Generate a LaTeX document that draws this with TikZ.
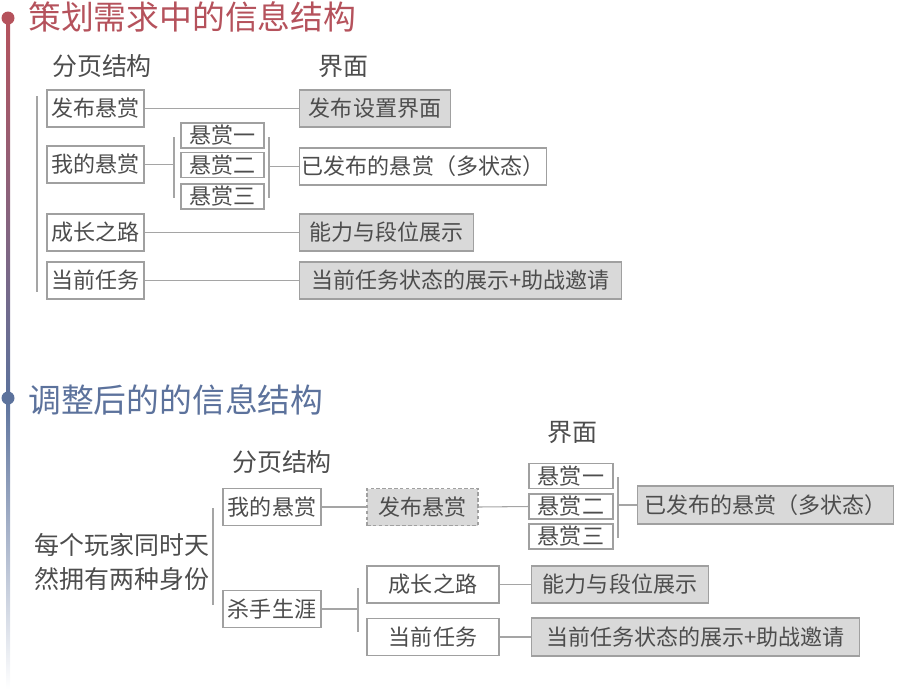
\documentclass[tikz,border=0pt]{standalone}
\usepackage{fontspec}
\setmainfont{Noto Sans CJK SC}
\usepackage{xcolor}
\definecolor{txtgray}{RGB}{77,77,77}
\definecolor{boxgray}{RGB}{160,160,160}
\definecolor{fillgray}{RGB}{217,217,217}
\definecolor{linegray}{RGB}{165,165,165}
\definecolor{tlred}{RGB}{181,82,92}
\definecolor{tlblue}{RGB}{92,114,156}
\usepackage{tikz}
\usetikzlibrary{positioning}

\begin{document}
\begin{tikzpicture}[x=0.03cm, y=-0.03cm,
    title/.style={anchor=west, inner sep=0pt, font=\fontsize{28}{32}\selectfont},
    header/.style={inner sep=0pt, text=txtgray, font=\fontsize{21.3}{25}\selectfont},
    pagebox/.style={rectangle, draw=boxgray, line width=0.9pt, fill=white,
      inner sep=0pt, minimum height=37*0.03cm, text=txtgray,
      font=\fontsize{18.8}{22}\selectfont},
    uibox/.style={pagebox, anchor=west},
    uifill/.style={uibox, fill=fillgray},
    subbox/.style={pagebox, minimum width=84*0.03cm, minimum height=25*0.03cm},
    link/.style={draw=linegray, line width=0.9pt},
    brace/.style={draw=linegray, line width=0.9pt}
]
\useasboundingbox (0,0) rectangle (900,689);

\shade[top color=tlred, bottom color=tlblue] (6,18) rectangle (10,398);
\shade[top color=tlblue, bottom color=white] (6,398) rectangle (10,689);
\fill[tlred] (8,18) circle (6.5);
\fill[tlblue] (8,398) circle (6.5);

\node[title, text=tlred] (title1) at (28,17) {策划需求中的信息结构};
\node[header] (head1) at (102,66) {分页结构};
\node[header] (ui1) at (343,66) {界面};

\node[pagebox, minimum width=97*0.03cm] (t1) at (95.5,108.5) {发布悬赏};
\node[pagebox, minimum width=97*0.03cm] (t2) at (95.5,164.5) {我的悬赏};
\node[pagebox, minimum width=97*0.03cm] (t3) at (95.5,232.5) {成长之路};
\node[pagebox, minimum width=97*0.03cm] (t4) at (95.5,280.5) {当前任务};

\node[subbox, minimum width=83*0.03cm] (s1) at (222.5,135.5) {悬赏一};
\node[subbox, minimum width=83*0.03cm] (s2) at (222.5,165) {悬赏二};
\node[subbox, minimum width=83*0.03cm] (s3) at (222.5,196.5) {悬赏三};

\node[uifill, minimum width=151*0.03cm] (u1) at (299,108.5) {发布设置界面};
\node[uibox, minimum width=247*0.03cm] (u2) at (299,166.5) {已发布的悬赏（多状态）};
\node[uifill, minimum width=174*0.03cm] (u3) at (299,232.5) {能力与段位展示};
\node[uifill, minimum width=322*0.03cm] (u4) at (299,280.5) {当前任务状态的展示+助战邀请};

\coordinate (la) at (37,96);
\coordinate (lb) at (37,292);
\coordinate (ba) at (174,137);
\coordinate (bb) at (174,198);
\coordinate (ca) at (269,137);
\coordinate (cb) at (269,198);
\draw[brace] (la) -- (lb);
\draw[brace] (ba) -- (bb);
\draw[brace] (ca) -- (cb);

\draw[link] (t1.east) -- (u1.west);
\draw[link] (t2.east) -- (ba |- t2.east);
\draw[link] (ca |- u2.west) -- (u2.west);
\draw[link] (t3.east) -- (u3.west);
\draw[link] (t4.east) -- (u4.west);

\node[title, text=tlblue] (title2) at (28,400) {调整后的的信息结构};
\node[header] (head2) at (282,462) {分页结构};
\node[header] (ui2) at (572,432) {界面};

\node[header, align=left, font=\fontsize{21.3}{29}\selectfont] (root) at (122,562)
  {每个玩家同时天\\然拥有两种身份};

\node[pagebox, minimum width=98*0.03cm] (m1) at (272,507) {我的悬赏};
\node[pagebox, minimum width=98*0.03cm] (m2) at (272,609) {杀手生涯};

\node[pagebox, fill=fillgray, dashed, dash pattern=on 3pt off 2pt,
  minimum width=111*0.03cm] (p1) at (422.5,507) {发布悬赏};

\node[subbox] (r1) at (571,476) {悬赏一};
\node[subbox] (r2) at (571,506.5) {悬赏二};
\node[subbox] (r3) at (571,536.5) {悬赏三};

\node[uifill, minimum width=256*0.03cm, minimum height=38*0.03cm] (v1) at (637,505) {已发布的悬赏（多状态）};

\node[pagebox, minimum width=132*0.03cm] (g1) at (433,584.5) {成长之路};
\node[pagebox, minimum width=132*0.03cm] (g2) at (433,637) {当前任务};

\node[uifill, minimum width=177*0.03cm] (v2) at (531,584.5) {能力与段位展示};
\node[uifill, minimum width=328*0.03cm, minimum height=38*0.03cm] (v3) at (531,637) {当前任务状态的展示+助战邀请};

\coordinate (da) at (213,508);
\coordinate (db) at (213,605);
\coordinate (ea) at (618,477);
\coordinate (eb) at (618,538);
\coordinate (fa) at (358,588);
\coordinate (fb) at (358,632);
\draw[brace] (da) -- (db);
\draw[brace] (ea) -- (eb);
\draw[brace] (fa) -- (fb);

\draw[link] (m1.east) -- (p1.west);
\draw[link] (p1.east) -- (r2.west);
\draw[link] (ea |- v1.west) -- (v1.west);
\draw[link] (m2.east) -- (fa |- m2.east);
\draw[link] (g1.east) -- (v2.west);
\draw[link] (g2.east) -- (v3.west);
\end{tikzpicture}
\end{document}
